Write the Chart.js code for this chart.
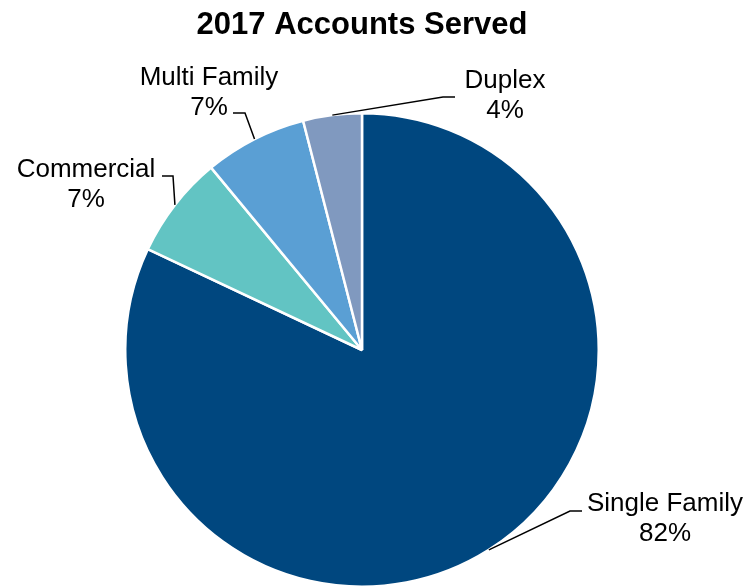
<!DOCTYPE html>
<html>
<head>
<meta charset="utf-8">
<script src="https://cdn.jsdelivr.net/npm/chart.js@4.4.1/dist/chart.umd.min.js"></script>
<style>
    html, body { margin: 0; padding: 0; background: #ffffff; }
    #accountsChart { display: block; }
</style>
</head>
<body>
<canvas id="accountsChart" width="749" height="588"></canvas>
<script>
// Accounts served in 2017, share by account type (%)
const accountTypes = ['Single Family', 'Commercial', 'Multi Family', 'Duplex'];
const accountShares = [82, 7, 7, 4];
const sliceColors = ['#00477F', '#62C4C3', '#5A9FD4', '#8099BF'];

// Label placement for each slice: text centre/baseline and the leader elbow
const labelLayout = [
    { x: 665, y: 511, elbow: [570, 511], end: [582, 511] },
    { x: 86,  y: 177, elbow: [173, 176], end: [162, 176] },
    { x: 209, y: 85,  elbow: [245, 113], end: [233, 113] },
    { x: 505, y: 88,  elbow: [443, 97],  end: [455, 97] }
];

const chartFont = '"Liberation Sans", Arial, Helvetica, sans-serif';

// Title and leader-line labels
const calloutPlugin = {
    id: 'callouts',
    afterDraw(chart) {
        const ctx = chart.ctx;
        ctx.save();

        ctx.fillStyle = '#000000';
        ctx.textAlign = 'center';
        ctx.textBaseline = 'alphabetic';
        ctx.font = 'bold 31px ' + chartFont;
        ctx.fillText('2017 Accounts Served', 362, 34);

        const arcs = chart.getDatasetMeta(0).data;
        arcs.forEach((arc, i) => {
            const layout = labelLayout[i];
            const mid = (arc.startAngle + arc.endAngle) / 2;
            const ax = arc.x + Math.cos(mid) * arc.outerRadius;
            const ay = arc.y + Math.sin(mid) * arc.outerRadius;

            ctx.strokeStyle = '#000000';
            ctx.lineWidth = 1.5;
            ctx.beginPath();
            ctx.moveTo(ax, ay);
            ctx.lineTo(layout.elbow[0], layout.elbow[1]);
            ctx.lineTo(layout.end[0], layout.end[1]);
            ctx.stroke();

            ctx.font = '26px ' + chartFont;
            ctx.fillText(chart.data.labels[i], layout.x, layout.y);
            ctx.fillText(chart.data.datasets[0].data[i] + '%', layout.x, layout.y + 30);
        });

        ctx.restore();
    }
};

new Chart(document.getElementById('accountsChart'), {
    type: 'pie',
    data: {
        labels: accountTypes,
        datasets: [{
            data: accountShares,
            backgroundColor: sliceColors,
            borderColor: '#ffffff',
            borderWidth: 2.5
        }]
    },
    options: {
        responsive: false,
        animation: false,
        layout: {
            padding: { left: 124, right: 149, top: 112, bottom: 0 }
        },
        plugins: {
            legend: { display: false },
            title: { display: false },
            tooltip: { enabled: false }
        }
    },
    plugins: [calloutPlugin]
});
</script>
</body>
</html>
